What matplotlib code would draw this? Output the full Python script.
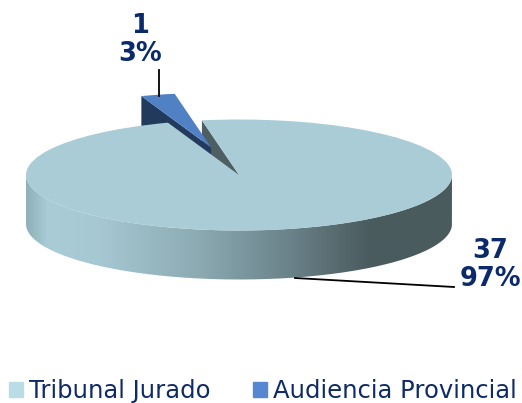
import matplotlib
matplotlib.use("Agg")
import matplotlib.pyplot as plt
import numpy as np
from matplotlib.colors import LinearSegmentedColormap
from matplotlib.patches import Patch, PathPatch, Polygon
from matplotlib.path import Path

categories = ["Tribunal Jurado", "Audiencia Provincial"]
values = [37, 1]
percents = [97, 3]

W, H = 522, 403
CX, CY = 239, 175     # centro de la elipse en pixeles
RX, RY = 213, 55.5
DEPTH = 49 / RY
EXPLODE = 0.515

TOP_MAIN = "#a9ccd6"
TOP_SMALL = "#4f81c4"
WALL_SMALL = "#223a5c"
WALL_MAIN = "#4d5f63"
TEXT = "#0b2a6b"

fig = plt.figure(figsize=(W / 100, H / 100), dpi=100)
ax = fig.add_axes([0, 0, 1, 1])

wedges, _ = ax.pie(values, startangle=109.5, colors=[TOP_MAIN, TOP_SMALL],
                   explode=[0, EXPLODE], wedgeprops={"linewidth": 0})
main, small = wedges
small.set_radius(0.98)
main.set_zorder(5)
small.set_zorder(6)


def pt(angle, r=1.0, c=(0, 0)):
    a = np.radians(angle)
    return np.array([c[0] + r * np.cos(a), c[1] + r * np.sin(a)])


# pared curva del sector grande, con degradado
arc = np.linspace(180, 360, 200)
ax_x = np.cos(np.radians(arc))
ax_y = np.sin(np.radians(arc))
side = np.vstack([np.column_stack([ax_x, ax_y]),
                  np.column_stack([ax_x[::-1], ax_y[::-1] - DEPTH])])
clip = PathPatch(Path(np.vstack([side, side[0]])), transform=ax.transData,
                 facecolor="none", edgecolor="none")
ax.add_patch(clip)
stops = [(0.0, "#8fb0b8"), (0.05, "#a9ccd6"), (0.17, "#a6c8d2"), (0.40, "#8dabb3"),
         (0.60, "#6d868d"), (0.81, "#4a5b5e"), (1.0, "#4a5b5e")]
cmap = LinearSegmentedColormap.from_list("side", stops)
grad = np.linspace(0, 1, 256).reshape(1, -1)
im = ax.imshow(grad, cmap=cmap, extent=(-1, 1, -1 - DEPTH, 0), aspect="auto", zorder=2)
im.set_clip_path(clip)

# pared del corte del sector grande
p = pt(main.theta2)
ax.add_patch(Polygon([(0, 0), p, p - (0, DEPTH), (0, -DEPTH)], closed=True,
                     facecolor=WALL_MAIN, edgecolor="none", zorder=3))

# pared del sector separado
c = small.center
left = pt(small.theta2, small.r, c)
ax.add_patch(Polygon([c, left, left - (0, DEPTH), np.array(c) - (0, DEPTH)], closed=True,
                     facecolor=WALL_SMALL, edgecolor="none", zorder=4))

# lineas guia
ax.plot([(159 - CX) / RX] * 2, [(CY - 70) / RY, (CY - 96) / RY], color="black", lw=1.3, zorder=7)
ax.plot([(295 - CX) / RX, (454 - CX) / RX], [(CY - 278) / RY, (CY - 287) / RY],
        color="black", lw=1.3, zorder=7)

ax.set_aspect("auto")
ax.set_xlim(-CX / RX, (W - CX) / RX)
ax.set_ylim((CY - H) / RY, CY / RY)
ax.axis("off")

fig.text(140 / W, 1 - 40 / H, f"{values[1]}\n{percents[1]}%", color=TEXT, fontsize=18.5,
         fontweight="bold", ha="center", va="center", linespacing=1.13)
fig.text(490 / W, 1 - 265 / H, f"{values[0]}\n{percents[0]}%", color=TEXT, fontsize=18.5,
         fontweight="bold", ha="center", va="center", linespacing=1.13)

handles = [Patch(color="#b8dde6"), Patch(color="#5588d0")]
fig.legend(handles, categories, ncol=2, loc="center", bbox_to_anchor=(263 / W, 1 - 391 / H),
           frameon=False, fontsize=17.5, labelcolor="#0f2a66", handlelength=0.57,
           handleheight=0.57, handletextpad=0.25, columnspacing=1.75, borderpad=0, borderaxespad=0)

fig.savefig("out.png", dpi=100)
